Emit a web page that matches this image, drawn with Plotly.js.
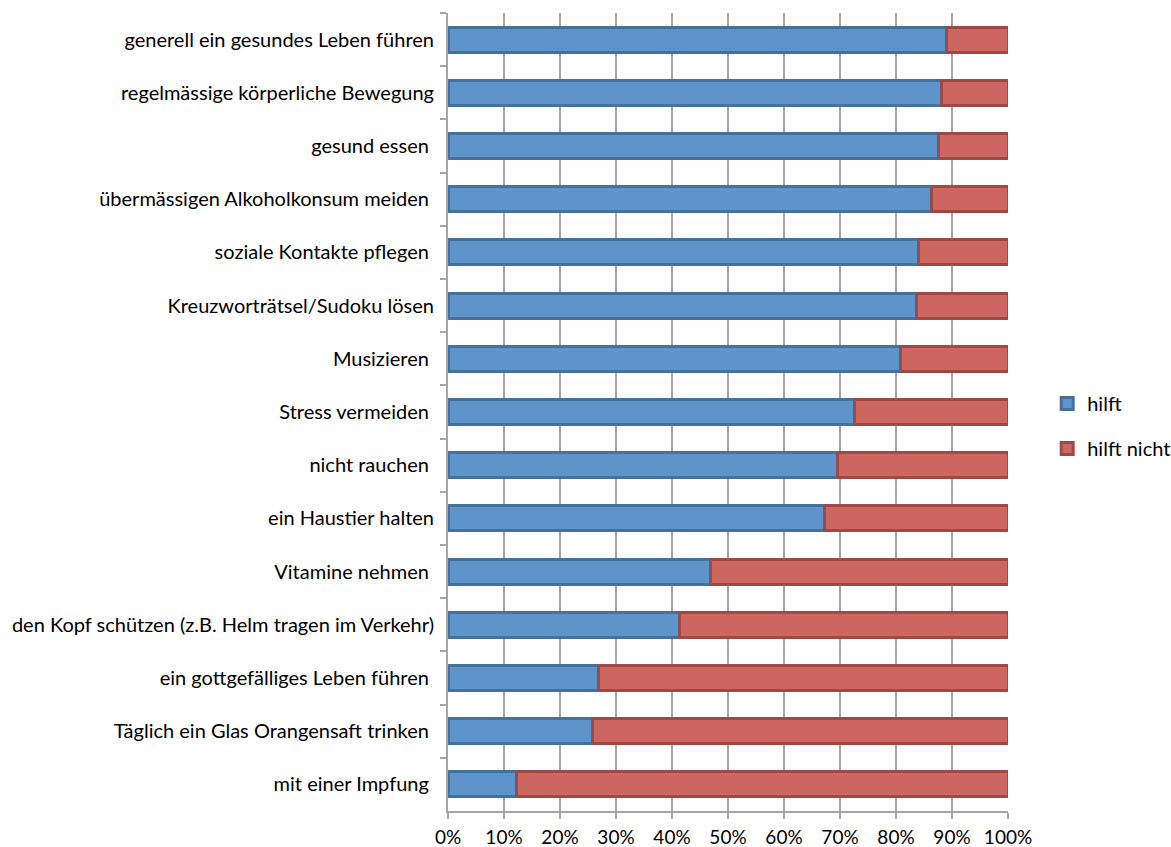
<!DOCTYPE html>
<html>
<head>
<meta charset="utf-8">
<script src="https://cdn.plot.ly/plotly-3.0.1.min.js"></script>
<style>html,body{margin:0;padding:0;background:#fff;}#chart{width:1171px;height:847px;}</style>
</head>
<body>
<div id="chart"></div>
<script>
var categories = [
  "generell ein gesundes Leben führen",
  "regelmässige körperliche Bewegung",
  "gesund essen\u00a0",
  "übermässigen Alkoholkonsum meiden\u00a0",
  "soziale Kontakte pflegen\u00a0",
  "Kreuzworträtsel/Sudoku lösen",
  "Musizieren\u00a0",
  "Stress vermeiden\u00a0",
  "nicht rauchen\u00a0",
  "ein Haustier halten",
  "Vitamine nehmen\u00a0",
  "den Kopf schützen (z.B. Helm tragen im Verkehr)",
  "ein gottgefälliges Leben führen\u00a0",
  "Täglich ein Glas Orangensaft trinken\u00a0",
  "mit einer Impfung\u00a0"
];
var hilft = [0.89, 0.882, 0.875, 0.864, 0.841, 0.837, 0.808, 0.726, 0.696, 0.673, 0.469, 0.413, 0.268, 0.258, 0.122];
var hilftNicht = hilft.map(function(v){ return Math.round((1 - v) * 1000) / 1000; });
var tickVals = [0, 0.1, 0.2, 0.3, 0.4, 0.5, 0.6, 0.7, 0.8, 0.9, 1.0];
var tickText = ["0%", "10%", "20%", "30%", "40%", "50%", "60%", "70%", "80%", "90%", "100%"];

var font = {family: "Lato, 'Open Sans', sans-serif", size: 20, color: "#000"};
var xfont = {family: "Lato, 'Open Sans', sans-serif", size: 19, color: "#000"};

var traces = [
  {type: "bar", orientation: "h", name: "hilft", legendgroup: "a", y: categories, x: hilft,
   marker: {color: "#5E94C9", line: {color: "#45729D", width: 3}}, hoverinfo: "x+y"},
  {type: "bar", orientation: "h", name: "hilft nicht", legendgroup: "b", y: categories, x: hilftNicht,
   marker: {color: "#CD6661", line: {color: "#A04844", width: 3}}, hoverinfo: "x+y"}
];

var layout = {
  width: 1171, height: 847,
  margin: {l: 448, r: 163, t: 13, b: 36, autoexpand: false},
  paper_bgcolor: "#fff", plot_bgcolor: "#fff",
  barmode: "stack", bargap: 0.53,
  font: font,
  showlegend: true,
  legend: {x: 1.07, y: 0.4825, yanchor: "middle", xanchor: "left", traceorder: "grouped",
           font: font, itemwidth: 30, tracegroupgap: 16, bgcolor: "rgba(0,0,0,0)"},
  xaxis: {range: [0, 1.0], tickvals: tickVals, ticktext: tickText, showgrid: true,
          gridcolor: "#A6A6A6", gridwidth: 2, zeroline: false, showline: true,
          linecolor: "#A6A6A6", linewidth: 2, ticks: "outside", ticklen: 6,
          tickcolor: "#A6A6A6", tickwidth: 2,
          ticklabelstandoff: 2, tickfont: xfont, fixedrange: true},
  yaxis: {autorange: "reversed", type: "category", showline: true, linecolor: "#A6A6A6", linewidth: 2,
          ticks: "outside", tickson: "boundaries", ticklen: 6, tickcolor: "#A6A6A6", tickwidth: 2,
          showgrid: false, tickfont: font, ticklabelstandoff: 8, fixedrange: true}
};

Plotly.newPlot("chart", traces, layout, {displayModeBar: false, staticPlot: true});
</script>
</body>
</html>
